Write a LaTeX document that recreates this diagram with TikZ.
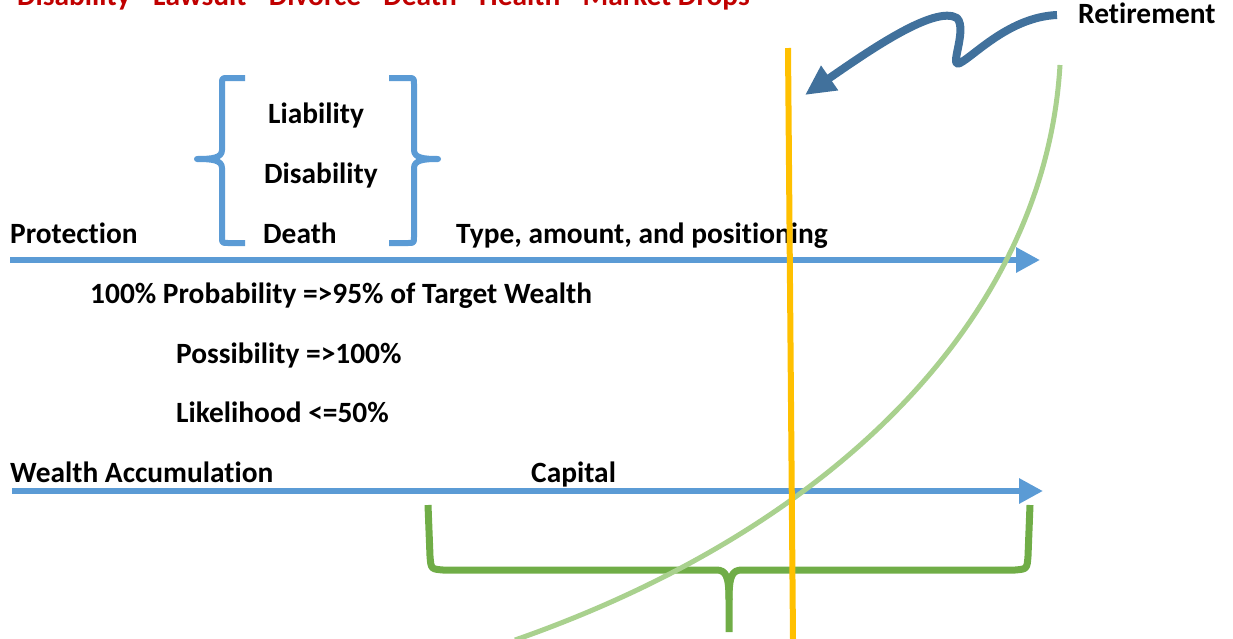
\documentclass[tikz,border=0pt]{standalone}
\usepackage{fontspec}
\setmainfont[Ligatures=NoCommon]{Carlito}
\usetikzlibrary{arrows.meta}
\definecolor{axisblue}{RGB}{91,155,213}
\definecolor{retblue}{RGB}{65,113,156}
\definecolor{riskred}{RGB}{192,0,0}
\definecolor{braceGreen}{RGB}{112,173,71}
\definecolor{curveGreen}{RGB}{169,209,142}
\definecolor{lineYellow}{RGB}{255,192,0}

\begin{document}
\begin{tikzpicture}[x=1pt, y=-1pt,
    every node/.style={font=\fontsize{29.4}{35}\selectfont\bfseries, inner sep=0pt, anchor=base west},
    axis/.style={line width=6pt, draw=axisblue, -{Triangle[length=24pt, width=24pt]}},
    bracket/.style={line width=6pt, draw=axisblue, line join=round},
    span/.style={line width=7pt, draw=braceGreen, line join=round},
    growth/.style={line width=5pt, draw=curveGreen},
    marker/.style={line width=6pt, draw=lineYellow},
    pointer/.style={line width=8pt, draw=retblue, line join=round, -{Triangle[length=30pt, width=28pt]}}
]
\useasboundingbox (0,0) rectangle (1233,638);
%% ============================================================
%% the two time lines
%% ============================================================
\coordinate (protA) at (10,260);
\coordinate (protB) at (1040,260);
\coordinate (wealthA) at (12,491);
\coordinate (wealthB) at (1043,491);
\draw[axis] (protA) -- (protB);
\draw[axis] (wealthA) -- (wealthB);
%% ============================================================
%% labels
%% ============================================================
\node[text=riskred] (risks) at (17,5) {Disability - Lawsuit - Divorce - Death - Health - Market Drops};
\node (retire) at (1078,23) {Retirement};
\node (liab) at (268,123) {Liability};
\node (disab) at (264,183) {Disability};
\node (death) at (263,243) {Death};
\node (prot) at (10,243) {Protection};
\node (type) at (456,243) {Type, amount, and positioning};
\node (prob) at (90,303) {100\% Probability =>95\% of Target Wealth};
\node (poss) at (176,363) {Possibility =>100\%};
\node (likely) at (176,422) {Likelihood <=50\%};
\node (wealth) at (10,482) {Wealth Accumulation};
\node (capital) at (531,482) {Capital};
%% brackets round the three risks
\draw[bracket] (245,78) -- (228,78) .. controls (222,78) .. (222,84) -- (222,150)
    .. controls (222,158) and (212,159) .. (197,159)
    .. controls (212,159) and (222,160) .. (222,168) -- (222,237)
    .. controls (222,243) .. (228,243) -- (245,243);
\draw[bracket] (389,78) -- (408,78) .. controls (414,78) .. (414,84) -- (414,150)
    .. controls (414,158) and (424,159) .. (438,159)
    .. controls (424,159) and (414,160) .. (414,168) -- (414,237)
    .. controls (414,243) .. (408,243) -- (389,243);
%% ============================================================
%% span under the wealth line
%% ============================================================
\draw[span] (428,505) -- (430,556) .. controls (431,569) .. (443,570) -- (716,570)
    .. controls (726,570) and (729,576) .. (729,600) -- (729,632);
\draw[span] (1030,505) -- (1028,556) .. controls (1027,569) .. (1015,570) -- (742,570)
    .. controls (732,570) and (729,576) .. (729,600);
%% growth curve
\coordinate (curveA) at (515,640);
\coordinate (curveB) at (1060,65);
\draw[growth] (curveA) .. controls (830,530) and (1045,320) .. (curveB);
%% retirement marker
\coordinate (markA) at (788,48);
\coordinate (markB) at (793,640);
\draw[marker] (markA) -- (markB);
\coordinate (retA) at (1057,15);
\coordinate (retTip) at (805,95);
\draw[pointer] (retA) .. controls (1010,17) and (975,55) .. (960,63)
    .. controls (948,69) and (968,30) .. (957,18)
    .. controls (935,5) and (870,50) .. (retTip);
\end{tikzpicture}
\end{document}
